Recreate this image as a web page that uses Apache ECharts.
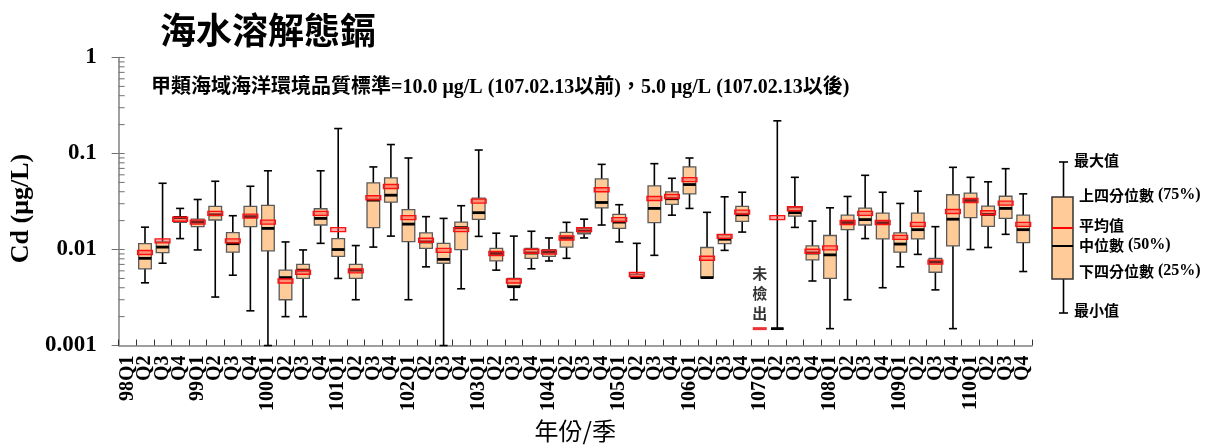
<!DOCTYPE html>
<html>
<head>
<meta charset="utf-8">
<script src="https://cdn.jsdelivr.net/npm/echarts@6/dist/echarts.min.js"></script>
<style>
  html, body { margin: 0; padding: 0; background: #fff; }
  #chart { width: 1210px; height: 448px; }
</style>
</head>
<body>
<div id="chart"></div>
<script>
// 年份/季
const quarters = [
  '98Q1','98Q2','98Q3','98Q4','99Q1','99Q2','99Q3','99Q4',
  '100Q1','100Q2','100Q3','100Q4','101Q1','101Q2','101Q3','101Q4',
  '102Q1','102Q2','102Q3','102Q4','103Q1','103Q2','103Q3','103Q4',
  '104Q1','104Q2','104Q3','104Q4','105Q1','105Q2','105Q3','105Q4',
  '106Q1','106Q2','106Q3','106Q4','107Q1','107Q2','107Q3','107Q4',
  '108Q1','108Q2','108Q3','108Q4','109Q1','109Q2','109Q3','109Q4',
  '110Q1','110Q2','110Q3','110Q4'
]

// 最小值
const cdMin = [
  null, 0.0045, 0.0072, 0.013, 0.0099, 0.0032, 0.0054, 0.0023,
  0.001, 0.0020, 0.0020, 0.0116, 0.0050, 0.0030, 0.0106, 0.0138,
  0.0030, 0.0066, 0.001, 0.0039, 0.0137, 0.0061, 0.0030, 0.0063,
  0.0076, 0.0081, 0.0132, 0.0180, 0.0120, 0.0051, 0.0087, 0.0228,
  0.0268, 0.0051, 0.0098, 0.0152, null, 0.0015, 0.0170, 0.0047,
  0.0015, 0.0030, 0.0130, 0.0040, 0.0066, 0.0089, 0.0038, 0.0015,
  0.0100, 0.0105, 0.0144, 0.0059
]
// 下四分位數 (25%)
const cdQ1 = [
  null, 0.0063, 0.0093, 0.0192, 0.0173, 0.0203, 0.0094, 0.0173,
  0.0097, 0.0030, 0.0050, 0.0180, 0.0085, 0.0050, 0.0169, 0.0311,
  0.0121, 0.0103, 0.0072, 0.0100, 0.0206, 0.0076, 0.0041, 0.0081,
  0.0085, 0.0106, 0.0146, 0.0272, 0.0166, 0.0051, 0.0191, 0.0295,
  0.0380, 0.0051, 0.0115, 0.0196, null, 0.0015, 0.0223, 0.0078,
  0.0050, 0.0161, 0.0180, 0.0129, 0.0094, 0.0129, 0.0058, 0.0109,
  0.0215, 0.0174, 0.0211, 0.0118
]
// 中位數 (50%)
const cdMedian = [
  null, 0.0081, 0.0106, 0.0215, 0.0193, 0.0230, 0.0115, 0.0220,
  0.0166, 0.0051, 0.0061, 0.0211, 0.0100, 0.0061, 0.0327, 0.0368,
  0.0184, 0.0120, 0.0079, 0.0169, 0.0242, 0.0091, 0.0041, 0.0092,
  0.0094, 0.0132, 0.0156, 0.0309, 0.0193, 0.0051, 0.0268, 0.0338,
  0.0475, 0.0051, 0.0128, 0.0230, null, 0.0015, 0.0242, 0.0092,
  0.0088, 0.0191, 0.0205, 0.0190, 0.0114, 0.0161, 0.0074, 0.0207,
  0.0324, 0.0232, 0.0268, 0.0161
]
// 上四分位數 (75%)
const cdQ3 = [
  null, 0.0115, 0.0120, 0.0220, 0.0207, 0.0281, 0.0150, 0.0281,
  0.0288, 0.0061, 0.0070, 0.0266, 0.0130, 0.0070, 0.0494, 0.0557,
  0.0260, 0.0149, 0.0116, 0.0193, 0.0343, 0.0103, 0.0050, 0.0103,
  0.0100, 0.0151, 0.0166, 0.0544, 0.0232, 0.0055, 0.0460, 0.0399,
  0.0725, 0.0105, 0.0142, 0.0281, null, 0.0015, 0.0274, 0.0109,
  0.0140, 0.0228, 0.0270, 0.0239, 0.0149, 0.0239, 0.0081, 0.0372,
  0.0386, 0.0283, 0.0359, 0.0228
]
// 最大值
const cdMax = [
  null, 0.0171, 0.049, 0.0268, 0.0332, 0.0514, 0.0225, 0.0456,
  0.0661, 0.0120, 0.0099, 0.0661, 0.182, 0.0110, 0.0725, 0.124,
  0.0898, 0.0220, 0.0211, 0.0286, 0.1087, 0.0148, 0.0138, 0.0155,
  0.0132, 0.0192, 0.0207, 0.0771, 0.0293, 0.0116, 0.0784, 0.0552,
  0.0898, 0.0244, 0.0354, 0.0395, null, 0.219, 0.0565, 0.0198,
  0.0272, 0.0357, 0.0593, 0.0395, 0.0302, 0.0405, 0.0173, 0.0718,
  0.0565, 0.0507, 0.0695, 0.0380
]
// 平均值
const cdMean = [
  null, 0.0093, 0.0123, 0.0207, 0.0193, 0.0238, 0.0123, 0.0223,
  0.0193, 0.0047, 0.0058, 0.0238, 0.0161, 0.0060, 0.0346, 0.0453,
  0.0215, 0.0125, 0.0098, 0.0161, 0.0319, 0.0091, 0.0047, 0.0096,
  0.0094, 0.0132, 0.0161, 0.0419, 0.0205, 0.0055, 0.0340, 0.0357,
  0.0535, 0.0081, 0.0137, 0.0245, null, 0.0215, 0.0266, 0.0096,
  0.0104, 0.0191, 0.0238, 0.0191, 0.0134, 0.0183, 0.0074, 0.0249,
  0.0324, 0.0242, 0.0304, 0.0183
]

// 未檢出
const ndQuarter = '107Q1'
const ndValue = 0.0015

const yTickLabels = ['0.001', '0.01', '0.1', '1']
const yMinorTicks = [
  0.002, 0.003, 0.004, 0.005, 0.006, 0.007, 0.008, 0.009, 0.01,
  0.02, 0.03, 0.04, 0.05, 0.06, 0.07, 0.08, 0.09, 0.1,
  0.2, 0.3, 0.4, 0.5, 0.6, 0.7, 0.8, 0.9, 1
]

const titleText = '海水溶解態鎘'
const noteText = '甲類海域海洋環境品質標準=10.0 μg/L (107.02.13以前)，5.0 μg/L (107.02.13以後)'

const SERIF = "'Liberation Serif', 'Noto Sans CJK TC', serif"
const CJK = "'Noto Sans CJK TC', sans-serif"

let boxData = []
quarters.forEach(function (q, i) {
    if (cdMin[i] == null) return
    boxData.push([i, cdMin[i], cdQ1[i], cdMedian[i], cdQ3[i], cdMax[i], cdMean[i]])
})

function renderBox(params, api) {
    let x = api.value(0)
    let pMin = api.coord([x, api.value(1)])
    let pQ1 = api.coord([x, api.value(2)])
    let pMed = api.coord([x, api.value(3)])
    let pQ3 = api.coord([x, api.value(4)])
    let pMax = api.coord([x, api.value(5)])
    let pMean = api.coord([x, api.value(6)])
    let band = api.size([1, 0.01])[0]
    let cx = pMed[0]
    let bw = band * 0.72   // box
    let cw = band * 0.46   // whisker cap
    let mw = band * 0.84   // mean mark
    let black = { stroke: '#000', lineWidth: 1.6 }
    return {
        type: 'group',
        children: [
            { type: 'line', shape: { x1: cx, y1: pMax[1], x2: cx, y2: pMin[1] }, style: black },
            { type: 'line', shape: { x1: cx - cw / 2, y1: pMax[1], x2: cx + cw / 2, y2: pMax[1] }, style: black },
            { type: 'line', shape: { x1: cx - cw / 2, y1: pMin[1], x2: cx + cw / 2, y2: pMin[1] }, style: black },
            {
                type: 'rect',
                shape: { x: cx - bw / 2, y: pQ3[1], width: bw, height: pQ1[1] - pQ3[1] },
                style: { fill: '#FFCC99', stroke: '#5a5a5a', lineWidth: 1.3 }
            },
            { type: 'line', shape: { x1: cx - bw / 2, y1: pMed[1], x2: cx + bw / 2, y2: pMed[1] }, style: { stroke: '#000', lineWidth: 2.8 } },
            {
                type: 'rect',
                shape: { x: cx - mw / 2, y: pMean[1] - 2, width: mw, height: 4 },
                style: { fill: 'rgba(255,70,70,0.45)', stroke: '#ff1010', lineWidth: 1.4 }
            }
        ]
    }
}

function renderInnerTick(params, api) {
    let p = api.coord([0, api.value(1)])
    let band = api.size([1, 0.01])[0]
    let x0 = p[0] - band / 2
    return {
        type: 'line',
        shape: { x1: x0, y1: p[1], x2: x0 + 6, y2: p[1] },
        style: { stroke: '#707070', lineWidth: 1 }
    }
}

function legendText(x, y, cjk, latin) {
    return {
        type: 'text', left: x, top: y - 10,
        style: {
            text: latin ? '{c|' + cjk + '}{l|' + latin + '}' : '{c|' + cjk + '}',
            rich: {
                c: { fontFamily: CJK, fontSize: 15, fontWeight: 'bold', fill: '#000' },
                l: { fontFamily: SERIF, fontSize: 16, fontWeight: 'bold', fill: '#000' }
            }
        }
    }
}

let chartView = echarts.init(document.getElementById('chart'))
chartView.setOption({
    backgroundColor: '#fff',
    animation: false,
    title: [
        {
            text: titleText, left: 155, top: 7,
            textStyle: { fontFamily: CJK, fontSize: 36, fontWeight: 'bold', color: '#000' }
        },
        {
            text: noteText, left: 146, top: 73,
            textStyle: { fontFamily: SERIF, fontSize: 20, fontWeight: 'bold', color: '#000' }
        }
    ],
    grid: { left: 113, right: 178, top: 57.5, bottom: 101 },
    xAxis: {
        type: 'category',
        data: quarters,
        boundaryGap: true,
        axisLine: { lineStyle: { color: '#808080', width: 1.5 } },
        axisTick: { show: true, inside: true, length: 6, interval: 0, lineStyle: { color: '#333' } },
        axisLabel: {
            interval: 0, rotate: 90, margin: 10,
            fontFamily: SERIF, fontWeight: 'bold', fontSize: 20, color: '#000',
            formatter: function (v) { return v.endsWith('Q1') ? v : v.slice(-2) }
        },
        splitLine: { show: false },
        name: '年份/季',
        nameLocation: 'middle',
        nameGap: 73,
        nameTextStyle: { fontFamily: CJK, fontSize: 24, color: '#000' }
    },
    yAxis: {
        type: 'log',
        logBase: 10,
        min: 0.001,
        max: 1,
        axisLine: { show: true, lineStyle: { color: '#808080', width: 1.5 } },
        axisTick: { show: true, length: 7, lineStyle: { color: '#707070' } },
        splitLine: { show: false },
        axisLabel: {
            margin: 22,
            fontFamily: SERIF, fontWeight: 'bold', fontSize: 23, color: '#000',
            formatter: function (v) { return yTickLabels[Math.round(Math.log10(v)) + 3] }
        },
        name: 'Cd (μg/L)',
        nameLocation: 'middle',
        nameGap: 72,
        nameRotate: 90,
        nameTextStyle: { fontFamily: SERIF, fontWeight: 'bold', fontSize: 26, color: '#000', padding: [0, 14, 0, 0] }
    },
    series: [
        {
            type: 'custom',
            name: 'innerTicks',
            silent: true,
            clip: false,
            renderItem: renderInnerTick,
            encode: { x: 0, y: 1 },
            data: yMinorTicks.map(function (v) { return [0, v] })
        },
        {
            type: 'custom',
            name: 'Cd',
            renderItem: renderBox,
            encode: { x: 0, y: [1, 2, 3, 4, 5, 6] },
            data: boxData
        },
        {
            type: 'scatter',
            name: '未檢出',
            symbol: 'rect',
            symbolSize: [14, 3],
            itemStyle: { color: '#e60000' },
            label: {
                show: true,
                position: 'top',
                distance: 4,
                formatter: '未\n檢\n出',
                fontFamily: CJK, fontSize: 15, fontWeight: 'bold', lineHeight: 20, color: '#000'
            },
            data: [[ndQuarter, ndValue]]
        }
    ],
    graphic: [
        { type: 'line', shape: { x1: 1063.5, y1: 162, x2: 1063.5, y2: 313 }, style: { stroke: '#000', lineWidth: 1.6 } },
        { type: 'line', shape: { x1: 1059, y1: 162, x2: 1068, y2: 162 }, style: { stroke: '#000', lineWidth: 1.6 } },
        { type: 'line', shape: { x1: 1059, y1: 313, x2: 1068, y2: 313 }, style: { stroke: '#000', lineWidth: 1.6 } },
        { type: 'rect', shape: { x: 1052, y: 197, width: 21, height: 82 }, style: { fill: '#FFCC99', stroke: '#333', lineWidth: 1.5 } },
        { type: 'line', shape: { x1: 1052, y1: 228, x2: 1073, y2: 228 }, style: { stroke: '#ff0000', lineWidth: 2 } },
        { type: 'line', shape: { x1: 1052, y1: 246, x2: 1073, y2: 246 }, style: { stroke: '#000', lineWidth: 2 } },
        legendText(1074, 163, '最大值'),
        legendText(1079, 197, '上四分位數', ' (75%)'),
        legendText(1079, 228, '平均值'),
        legendText(1079, 247, '中位數', ' (50%)'),
        legendText(1079, 273, '下四分位數', ' (25%)'),
        legendText(1074, 313, '最小值')
    ]
})
window.addEventListener('resize', function () {
    chartView.resize()
})
</script>
</body>
</html>
